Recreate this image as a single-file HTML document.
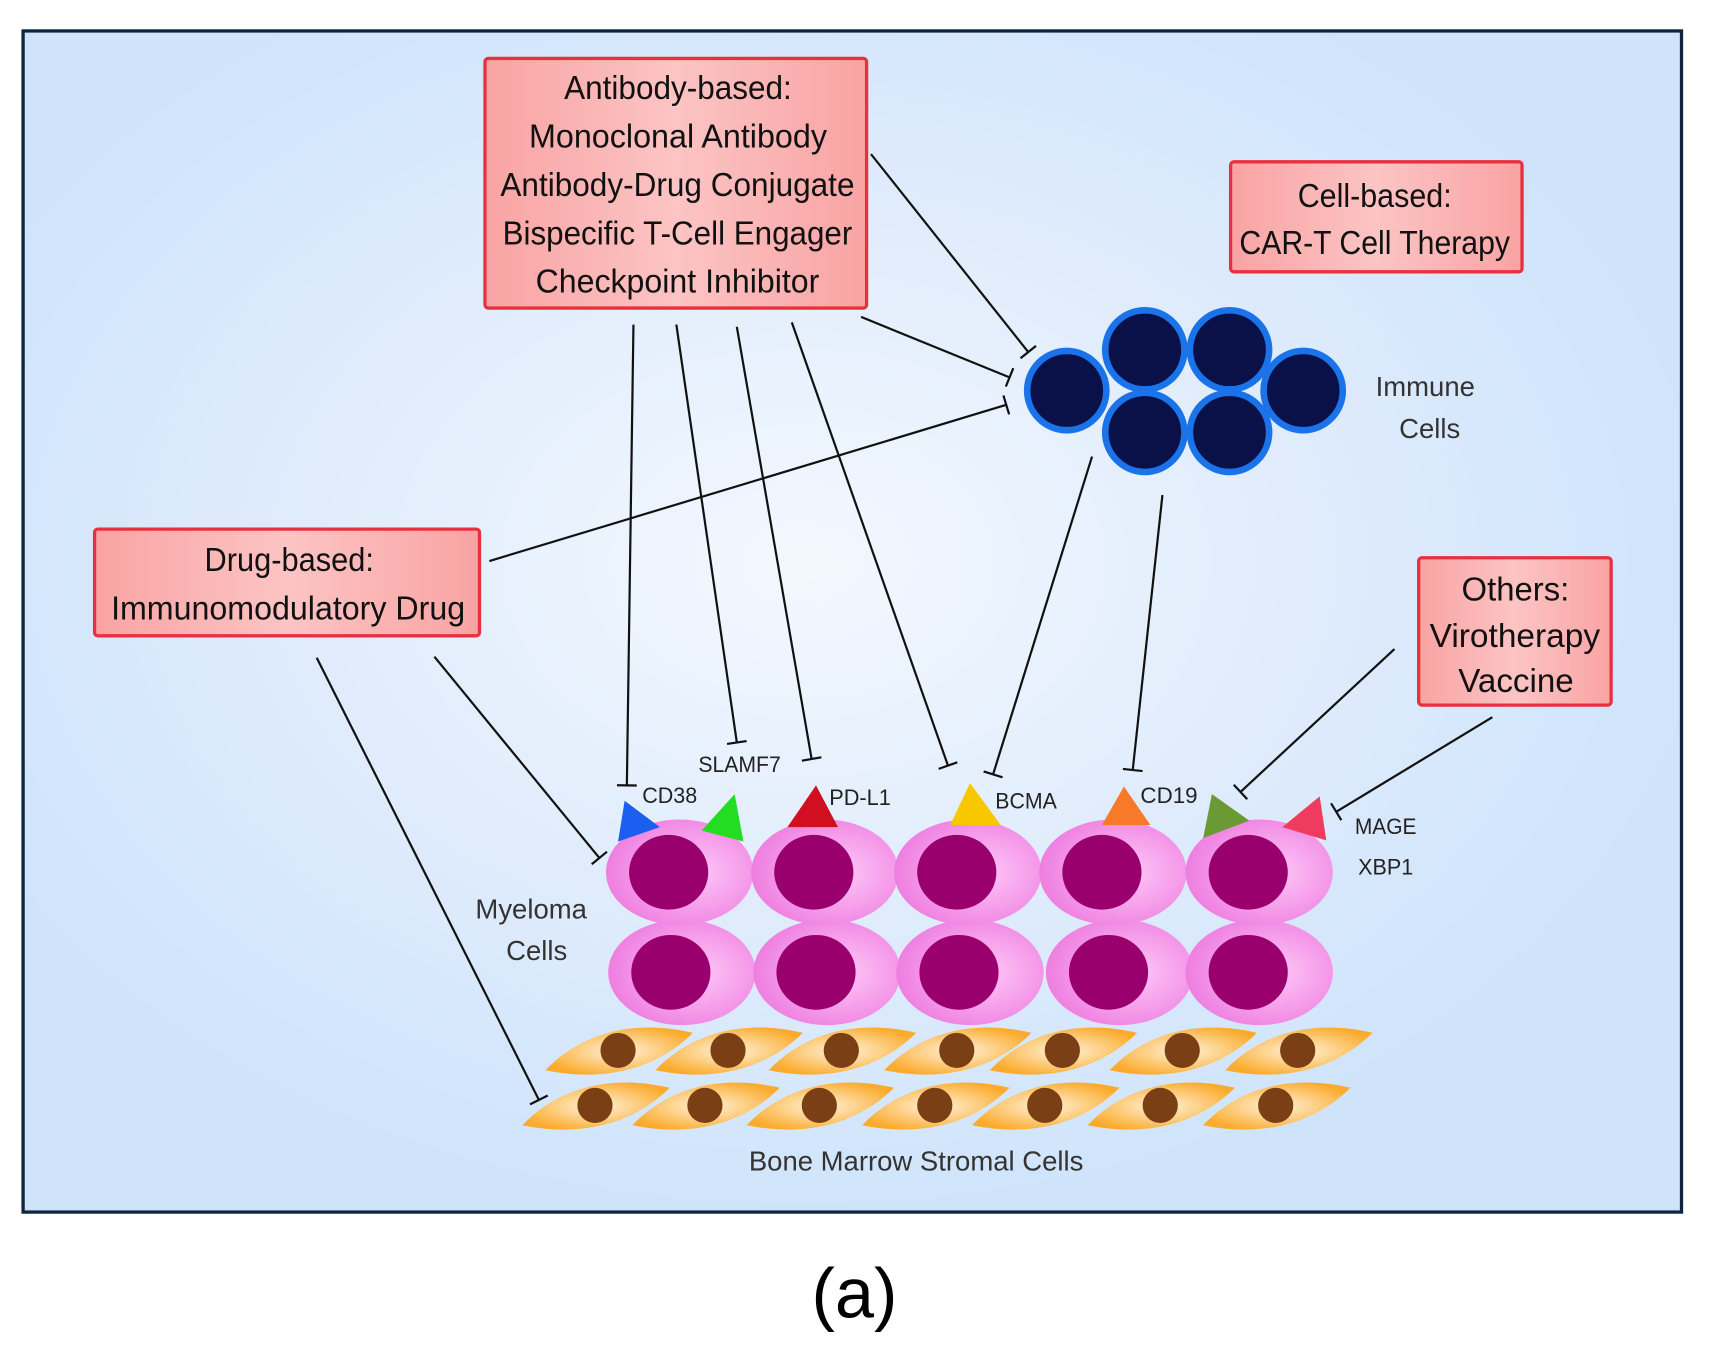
<!DOCTYPE html>
<html><head><meta charset="utf-8"><style>
html,body{margin:0;padding:0;background:#fff;}
svg{display:block;}
text{font-family:"Liberation Sans",sans-serif;}
</style></head><body>
<svg width="1731" height="1364" viewBox="0 0 1574 1240" xmlns="http://www.w3.org/2000/svg">
<defs>
<radialGradient id="bg" cx="0.47" cy="0.45" r="0.55">
<stop offset="0" stop-color="#f3f8fe"/><stop offset="0.6" stop-color="#deebfc"/><stop offset="1" stop-color="#cfe4fb"/>
</radialGradient>
<linearGradient id="box" x1="0" y1="0" x2="1" y2="0">
<stop offset="0" stop-color="#f9a3a3"/><stop offset="0.5" stop-color="#fcc4c4"/><stop offset="1" stop-color="#f9a3a3"/>
</linearGradient>
<radialGradient id="pink" cx="0.6" cy="0.5" r="0.6">
<stop offset="0" stop-color="#ffc8f8"/><stop offset="1" stop-color="#ee7ee0"/>
</radialGradient>
<radialGradient id="orange" cx="0.5" cy="0.5" r="0.55">
<stop offset="0" stop-color="#fff3dc"/><stop offset="1" stop-color="#fbab2c"/>
</radialGradient>
<marker id="t" viewBox="-2 -10 4 20" markerWidth="4" markerHeight="20" refX="0" refY="0" orient="auto" markerUnits="userSpaceOnUse">
<line x1="0" y1="-9" x2="0" y2="9" stroke="#111" stroke-width="2"/>
</marker>
<g id="st">
<path d="M-66,18 C-32,-18 18,-28 68,-16 C32,20 -18,28 -66,18 Z" fill="url(#orange)"/>
<circle cx="0" cy="0" r="16" fill="#7a3f14"/>
</g>
<g id="my">
<ellipse cx="0" cy="0" rx="67" ry="48" fill="url(#pink)"/>
<ellipse cx="-10" cy="0" rx="36" ry="34" fill="#99006e"/>
</g>
<g id="im">
<circle r="36" fill="#0a1048" stroke="#1b73ea" stroke-width="6"/>
</g>
</defs>
<rect x="21" y="28" width="1508" height="1074" fill="url(#bg)" stroke="#0d2540" stroke-width="3"/>

<g>
<use href="#st" x="562" y="955"/><use href="#st" x="662" y="955"/><use href="#st" x="765" y="955"/><use href="#st" x="870" y="955"/><use href="#st" x="966" y="955"/><use href="#st" x="1075" y="955"/><use href="#st" x="1180" y="955"/>
<use href="#st" x="541" y="1005"/><use href="#st" x="641" y="1005"/><use href="#st" x="745" y="1005"/><use href="#st" x="850" y="1005"/><use href="#st" x="950" y="1005"/><use href="#st" x="1055" y="1005"/><use href="#st" x="1160" y="1005"/>
</g>
<use href="#my" x="620" y="884"/><use href="#my" x="752" y="884"/><use href="#my" x="882" y="884"/><use href="#my" x="1018" y="884"/><use href="#my" x="1145" y="884"/>
<use href="#my" x="618" y="793"/><use href="#my" x="750" y="793"/><use href="#my" x="880" y="793"/><use href="#my" x="1012" y="793"/><use href="#my" x="1145" y="793"/>
<polygon points="562,765 568,728 600,752" fill="#1a5ff0"/>
<polygon points="638,755 668,722 676,765" fill="#22dd22"/>
<polygon points="716,752 742,714 762,752" fill="#d01020"/>
<polygon points="864,750 882,712 910,750" fill="#f7c800"/>
<polygon points="1002,750 1022,715 1046,750" fill="#f77a2a"/>
<polygon points="1094,762 1102,722 1136,746" fill="#6b9a34"/>
<polygon points="1166,752 1200,724 1206,764" fill="#ee3b5e"/>
<use href="#im" x="970" y="355"/><use href="#im" x="1041" y="318"/><use href="#im" x="1118" y="318"/><use href="#im" x="1185" y="355"/><use href="#im" x="1041" y="393"/><use href="#im" x="1118" y="393"/>

<g stroke="#111" stroke-width="2" fill="none" marker-end="url(#t)">
<line x1="792" y1="140" x2="935" y2="320"/>
<line x1="783" y1="288" x2="918" y2="343"/>
<line x1="445" y1="510" x2="915" y2="368"/>
<line x1="576" y1="295" x2="570" y2="714"/>
<line x1="615" y1="295" x2="670" y2="675"/>
<line x1="670" y1="297" x2="738" y2="690"/>
<line x1="720" y1="293" x2="862" y2="696"/>
<line x1="993" y1="415" x2="903" y2="704"/>
<line x1="1057" y1="450" x2="1030" y2="700"/>
<line x1="1268" y1="590" x2="1128" y2="720"/>
<line x1="1357" y1="652" x2="1215" y2="738"/>
<line x1="395" y1="597" x2="545" y2="780"/>
<line x1="288" y1="598" x2="490" y2="1000"/>
</g>

<g fill="url(#box)" stroke="#e8303f" stroke-width="3">
<rect x="441" y="53" width="347" height="227" rx="3"/>
<rect x="1119" y="147" width="265" height="100" rx="3"/>
<rect x="86" y="481" width="350" height="97" rx="3"/>
<rect x="1290" y="507" width="175" height="134" rx="3"/>
</g>
<g font-size="30" fill="#111">
<text x="513" y="90" textLength="207" lengthAdjust="spacingAndGlyphs">Antibody-based:</text>
<text x="481" y="134" textLength="271" lengthAdjust="spacingAndGlyphs">Monoclonal Antibody</text>
<text x="455" y="178" textLength="322" lengthAdjust="spacingAndGlyphs">Antibody-Drug Conjugate</text>
<text x="457" y="222" textLength="318" lengthAdjust="spacingAndGlyphs">Bispecific T-Cell Engager</text>
<text x="487" y="266" textLength="258" lengthAdjust="spacingAndGlyphs">Checkpoint Inhibitor</text>
<text x="1180" y="188" textLength="140" lengthAdjust="spacingAndGlyphs">Cell-based:</text>
<text x="1127" y="231" textLength="246" lengthAdjust="spacingAndGlyphs">CAR-T Cell Therapy</text>
<text x="186" y="519" textLength="154" lengthAdjust="spacingAndGlyphs">Drug-based:</text>
<text x="101" y="563" textLength="322" lengthAdjust="spacingAndGlyphs">Immunomodulatory Drug</text>
<text x="1329" y="546" textLength="98" lengthAdjust="spacingAndGlyphs">Others:</text>
<text x="1300" y="588" textLength="155" lengthAdjust="spacingAndGlyphs">Virotherapy</text>
<text x="1326" y="629" textLength="105" lengthAdjust="spacingAndGlyphs">Vaccine</text>
</g>
<g font-size="20" fill="#222">
<text x="584" y="730" textLength="50" lengthAdjust="spacingAndGlyphs">CD38</text>
<text x="635" y="702" textLength="75" lengthAdjust="spacingAndGlyphs">SLAMF7</text>
<text x="754" y="732" textLength="56" lengthAdjust="spacingAndGlyphs">PD-L1</text>
<text x="905" y="735" textLength="56" lengthAdjust="spacingAndGlyphs">BCMA</text>
<text x="1037" y="730" textLength="52" lengthAdjust="spacingAndGlyphs">CD19</text>
<text x="1232" y="758" textLength="56" lengthAdjust="spacingAndGlyphs">MAGE</text>
<text x="1235" y="795" textLength="50" lengthAdjust="spacingAndGlyphs">XBP1</text>
</g>
<g font-size="25" fill="#333" text-anchor="middle">
<text x="1296" y="360">Immune</text>
<text x="1300" y="398">Cells</text>
<text x="483" y="835">Myeloma</text>
<text x="488" y="873">Cells</text>
<text x="833" y="1064">Bone Marrow Stromal Cells</text>
</g>
<text x="777" y="1198" font-size="64" text-anchor="middle" font-family="Liberation Serif, serif" fill="#000">(a)</text>
</svg>
</body></html>
